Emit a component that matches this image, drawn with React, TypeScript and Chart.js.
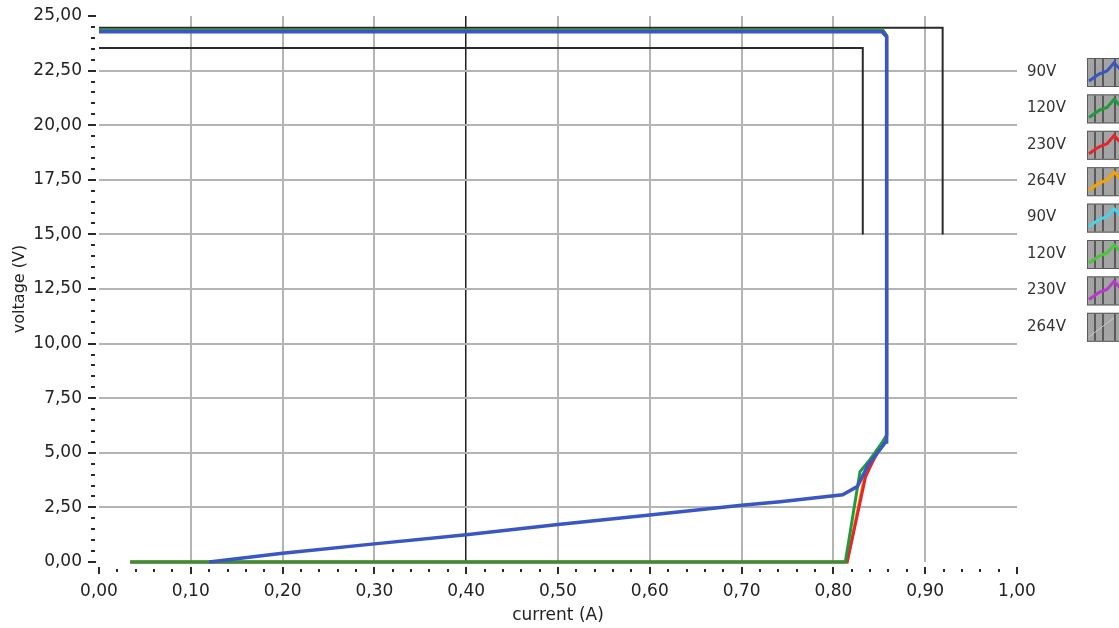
import React, { useEffect, useRef } from "react";
import { Chart, registerables } from "chart.js";

Chart.register(...registerables);

// ---- data ----
const legendLabels = ["90V", "120V", "230V", "264V", "90V", "120V", "230V", "264V"];
const seriesColors = ["#3a56c4", "#1f9a3c", "#e8242a", "#f5a300", "#48d4e8", "#4cc43c", "#b43cc8", "#9a9a9a"];

const blue90Current = [0.12, 0.2, 0.3, 0.4, 0.5, 0.6, 0.7, 0.742, 0.81, 0.826, 0.838, 0.851, 0.857, 0.858, 0.858, 0.853, 0.0];
const blue90Voltage = [0.0, 0.4, 0.83, 1.25, 1.72, 2.15, 2.6, 2.76, 3.08, 3.45, 4.47, 5.16, 5.5, 5.5, 24.05, 24.28, 24.28];

const green120Current = [0.034, 0.813, 0.829, 0.84, 0.853, 0.858, 0.858, 0.854, 0.0];
const green120Voltage = [0.0, 0.0, 4.14, 4.7, 5.47, 5.8, 24.1, 24.35, 24.35];

const red230Current = [0.034, 0.815, 0.835, 0.845, 0.853, 0.858, 0.858, 0.854, 0.0];
const red230Voltage = [0.0, 0.0, 3.9, 4.8, 5.4, 5.8, 24.1, 24.32, 24.32];

const orange264Current = [0.034, 0.815, 0.834, 0.845, 0.854, 0.858, 0.858, 0.854, 0.0];
const orange264Voltage = [0.0, 0.0, 3.95, 4.75, 5.4, 5.8, 24.1, 24.32, 24.32];

const emptyCurrent: number[] = [];
const emptyVoltage: number[] = [];

const limitOuterCurrent = [0.0, 0.919, 0.919];
const limitOuterVoltage = [24.46, 24.46, 15.0];
const limitInnerCurrent = [0.0, 0.832, 0.832];
const limitInnerVoltage = [23.54, 23.54, 15.0];

const xMin = 0, xMax = 1.0, xStep = 0.1, xMinorStep = 0.02;
const yMin = 0, yMax = 25, yStep = 2.5, yMinorStep = 0.5;

const seriesCurrents = [blue90Current, green120Current, red230Current, orange264Current, emptyCurrent, emptyCurrent, emptyCurrent, emptyCurrent];
const seriesVoltages = [blue90Voltage, green120Voltage, red230Voltage, orange264Voltage, emptyVoltage, emptyVoltage, emptyVoltage, emptyVoltage];

const toPoints = (xs: number[], ys: number[]) => xs.map((x, i) => ({ x, y: ys[i] }));
const fmt = (v: number) => v.toFixed(2).replace(".", ",");
const near = (a: number, b: number) => Math.abs(a - b) < 1e-6;

const FONT = "DejaVu Sans";

const minorTicksPlugin = {
  id: "minorTicks",
  afterDraw(chart: any) {
    const { ctx, chartArea, scales } = chart;
    const xs = scales.x, ys = scales.y;
    ctx.save();
    ctx.fillStyle = "#2a2a2a";
    const nY = Math.round((yMax - yMin) / yMinorStep);
    for (let i = 0; i <= nY; i++) {
      const v = yMin + i * yMinorStep;
      const py = Math.round(ys.getPixelForValue(v));
      const major = i % Math.round(yStep / yMinorStep) === 0;
      if (major) ctx.fillRect(chartArea.left - 11, py - 1, 8, 2);
      else ctx.fillRect(chartArea.left - 8, py - 1, 4, 2);
    }
    const nX = Math.round((xMax - xMin) / xMinorStep);
    for (let i = 0; i <= nX; i++) {
      const v = xMin + i * xMinorStep;
      const px = Math.round(xs.getPixelForValue(v));
      const major = i % Math.round(xStep / xMinorStep) === 0;
      if (major) ctx.fillRect(px - 1, chartArea.bottom + 5, 2, 7);
      else ctx.fillRect(px - 1, chartArea.bottom + 7, 2, 3);
    }
    ctx.restore();
  },
};

const sideLegendPlugin = {
  id: "sideLegend",
  afterDraw(chart: any) {
    const { ctx } = chart;
    ctx.save();
    const top = 72;
    const step = 36.4;
    legendLabels.forEach((label, i) => {
      const cy = top + i * step;
      ctx.font = `15px "${FONT}"`;
      ctx.fillStyle = "#333";
      ctx.textAlign = "left";
      ctx.textBaseline = "middle";
      ctx.fillText(label, 1027, cy);
      const bx = 1087, by = cy - 14, bw = 40, bh = 29;
      ctx.fillStyle = "#a4a4a4";
      ctx.fillRect(bx, by, bw, bh);
      ctx.strokeStyle = "#5a5a5a";
      ctx.lineWidth = 1;
      ctx.strokeRect(bx + 0.5, by + 0.5, bw, bh - 1);
      ctx.lineWidth = 2;
      [8, 16, 28].forEach((dx) => {
        ctx.beginPath();
        ctx.moveTo(bx + dx, by + 1);
        ctx.lineTo(bx + dx, by + bh - 1);
        ctx.stroke();
      });
      if (i < 7) {
        ctx.strokeStyle = seriesColors[i];
        ctx.lineWidth = 3;
        ctx.beginPath();
        ctx.moveTo(bx + 2, by + 23);
        ctx.lineTo(bx + 12, by + 16);
        ctx.lineTo(bx + 20, by + 13);
        ctx.lineTo(bx + 27, by + 5);
        ctx.lineTo(bx + 34, by + 12);
        ctx.stroke();
      } else {
        ctx.strokeStyle = "#c8c8c8";
        ctx.lineWidth = 1;
        ctx.beginPath();
        ctx.moveTo(bx + 2, by + 24);
        ctx.lineTo(bx + 27, by + 5);
        ctx.stroke();
      }
    });
    ctx.restore();
  },
};

export default function App() {
  const canvasRef = useRef<HTMLCanvasElement | null>(null);

  useEffect(() => {
    if (!canvasRef.current) return;
    Chart.defaults.font.family = FONT;

    const datasets: any[] = seriesCurrents.map((xs, i) => ({
      label: legendLabels[i],
      data: toPoints(xs, seriesVoltages[i]),
      borderColor: seriesColors[i],
      backgroundColor: seriesColors[i],
      borderWidth: i === 0 ? 3.5 : 3,
      showLine: true,
      pointRadius: 0,
      tension: 0,
      clip: 5,
    }));
    datasets.push({
      label: "limit outer",
      data: toPoints(limitOuterCurrent, limitOuterVoltage),
      borderColor: "#2a2a2a",
      borderWidth: 2,
      showLine: true,
      pointRadius: 0,
    });
    datasets.push({
      label: "limit inner",
      data: toPoints(limitInnerCurrent, limitInnerVoltage),
      borderColor: "#2a2a2a",
      borderWidth: 2,
      showLine: true,
      pointRadius: 0,
    });

    const chart = new Chart(canvasRef.current, {
      type: "scatter",
      data: { datasets },
      plugins: [minorTicksPlugin, sideLegendPlugin],
      options: {
        animation: false,
        responsive: false,
        maintainAspectRatio: false,
        layout: { padding: { left: 0, right: 102, top: 16, bottom: 0 } },
        plugins: { legend: { display: false }, tooltip: { enabled: false } },
        scales: {
          x: {
            type: "linear",
            min: xMin,
            max: xMax,
            afterFit: (s: any) => { s.height = 66; s.paddingLeft = 0; s.paddingRight = 0; },
            border: { display: false },
            grid: {
              drawTicks: false,
              color: (c: any) => {
                const v = c.tick?.value;
                if (v === undefined) return "transparent";
                if (near(v, 0) || near(v, 1)) return "transparent";
                if (near(v, 0.4)) return "#1e1e1e";
                return "#b4b4b4";
              },
              lineWidth: (c: any) => (c.tick && near(c.tick.value, 0.4) ? 1.5 : 2),
            },
            ticks: {
              stepSize: xStep,
              padding: 19,
              color: "#222",
              font: { size: 17 },
              maxRotation: 0,
              autoSkip: false,
              callback: (v: any) => fmt(Number(v)),
            },
            title: {
              display: true,
              text: "current (A)",
              color: "#222",
              font: { size: 17 },
              padding: { top: 0, bottom: 2 },
            },
          },
          y: {
            type: "linear",
            min: yMin,
            max: yMax,
            afterFit: (s: any) => { s.width = 99; s.paddingTop = 0; s.paddingBottom = 0; },
            border: { display: false },
            grid: {
              drawTicks: false,
              color: (c: any) => {
                const v = c.tick?.value;
                if (v === undefined) return "transparent";
                if (near(v, 0) || near(v, 25)) return "transparent";
                return "#b4b4b4";
              },
              lineWidth: 2,
            },
            ticks: {
              stepSize: yStep,
              padding: 17,
              color: "#222",
              font: { size: 17 },
              autoSkip: false,
              callback: (v: any) => fmt(Number(v)),
            },
            title: {
              display: true,
              text: "voltage (V)",
              color: "#222",
              font: { size: 16 },
              padding: { top: 10, bottom: 0 },
            },
          },
        },
      },
    });
    return () => chart.destroy();
  }, []);

  return (
    <div style={{ position: "absolute", left: 0, top: 0, width: 1119, height: 628, background: "#fff" }}>
      <canvas ref={canvasRef} width={1119} height={628} />
    </div>
  );
}
